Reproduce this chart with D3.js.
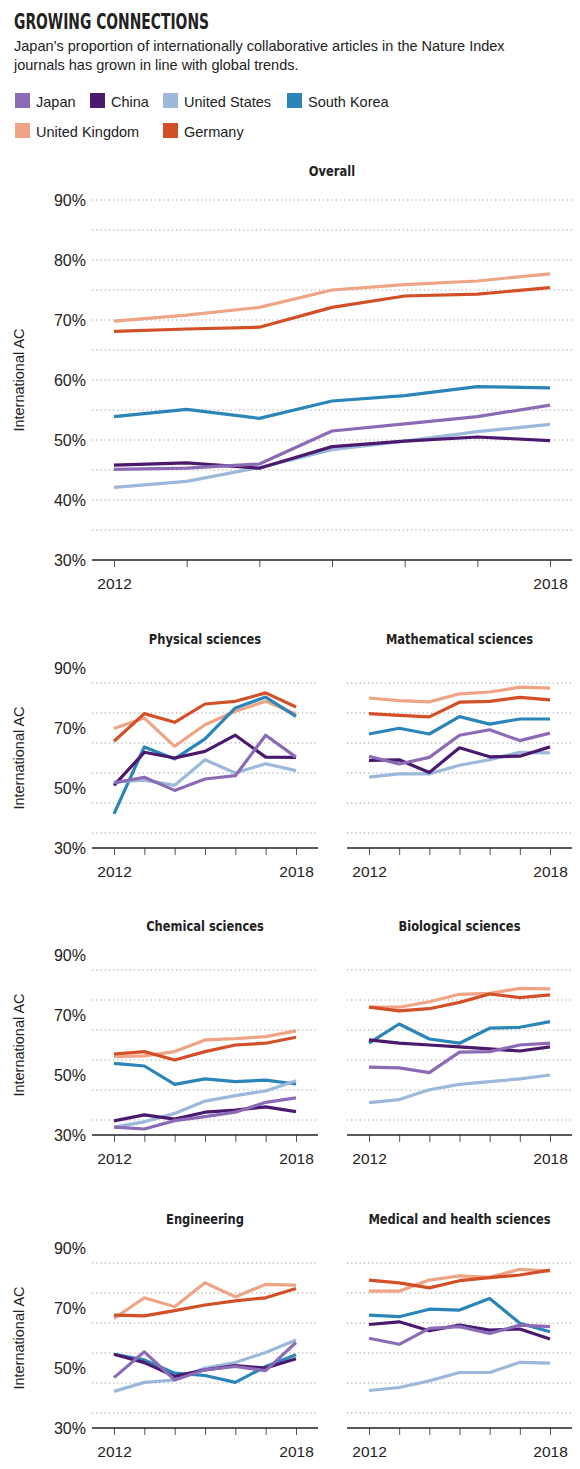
<!DOCTYPE html>
<html>
<head>
<meta charset="utf-8">
<script src="https://cdn.jsdelivr.net/npm/d3@7"></script>
<style>
  body { margin: 0; background: #fff; }
  text { font-family: "Liberation Sans", Arial, sans-serif; fill: #222; }
  .title { font-family: "Liberation Sans Narrow", "DejaVu Sans Condensed", sans-serif; font-weight: bold; }
  .grid line { stroke: #999; stroke-dasharray: 1.2 3; }
</style>
</head>
<body>
<div id="chart"></div>
<script>
// data
var years = [2012, 2013, 2014, 2015, 2016, 2017, 2018];
var countries = ["Japan", "China", "United States", "South Korea", "United Kingdom", "Germany"];
var colors = ["#8c6bb6", "#4b1a6e", "#9cb8da", "#2a85b9", "#eea485", "#d24f27"];
var drawOrder = ["United Kingdom", "Germany", "South Korea", "United States", "China", "Japan"];

var overall = {
  "Japan": [45.1, 45.3, 46.0, 51.5, 52.7, 53.9, 55.8],
  "China": [45.8, 46.2, 45.3, 48.9, 49.8, 50.5, 49.9],
  "United States": [42.1, 43.1, 45.4, 48.4, 49.8, 51.4, 52.6],
  "South Korea": [53.9, 55.1, 53.6, 56.5, 57.4, 58.9, 58.7],
  "United Kingdom": [69.8, 70.8, 72.1, 75.0, 75.9, 76.5, 77.7],
  "Germany": [68.1, 68.5, 68.8, 72.1, 74.0, 74.3, 75.4]
};
var physical = {
  "Japan": [51.7, 53.6, 49.2, 53.0, 54.1, 67.6, 60.3],
  "China": [50.9, 61.9, 60.0, 62.2, 67.6, 60.3, 60.2],
  "United States": [52.0, 52.6, 50.9, 59.4, 55.0, 58.1, 55.8],
  "South Korea": [41.4, 63.7, 59.7, 66.4, 76.7, 80.3, 73.9],
  "United Kingdom": [69.8, 73.3, 63.9, 71.1, 75.6, 78.9, 74.7],
  "Germany": [65.6, 74.8, 71.9, 78.0, 78.9, 81.7, 77.0]
};
var mathematical = {
  "Japan": [60.6, 58.0, 60.2, 67.6, 69.4, 65.8, 68.3],
  "China": [59.2, 59.4, 55.2, 63.4, 60.4, 60.6, 63.7],
  "United States": [53.6, 54.7, 54.7, 57.6, 59.4, 61.9, 61.7],
  "South Korea": [68.0, 69.9, 68.0, 73.8, 71.3, 73.0, 73.0],
  "United Kingdom": [80.0, 79.1, 78.7, 81.4, 82.0, 83.6, 83.3],
  "Germany": [74.8, 74.2, 73.7, 78.6, 78.9, 80.2, 79.4]
};
var chemical = {
  "Japan": [32.6, 32.0, 34.8, 36.1, 37.6, 40.9, 42.4],
  "China": [34.7, 36.7, 35.3, 37.6, 38.3, 39.4, 37.8],
  "United States": [32.6, 34.4, 37.2, 41.3, 43.1, 44.7, 48.1],
  "South Korea": [53.9, 53.0, 46.9, 48.7, 47.8, 48.3, 47.0],
  "United Kingdom": [56.1, 56.4, 57.8, 61.7, 62.1, 62.8, 64.7],
  "Germany": [57.0, 57.8, 55.0, 57.8, 60.0, 60.6, 62.6]
};
var biological = {
  "Japan": [52.6, 52.4, 50.8, 57.6, 57.8, 60.0, 60.6],
  "China": [61.7, 60.6, 60.0, 59.4, 58.7, 58.0, 59.4],
  "United States": [40.8, 41.8, 45.1, 46.9, 47.8, 48.7, 50.0],
  "South Korea": [60.6, 67.0, 62.0, 60.6, 65.6, 65.9, 67.8],
  "United Kingdom": [72.6, 72.6, 74.4, 76.9, 77.2, 78.9, 78.7],
  "Germany": [72.6, 71.4, 72.1, 74.2, 77.0, 75.8, 76.7]
};
var engineering = {
  "Japan": [46.8, 55.4, 46.0, 49.4, 50.5, 49.1, 58.5],
  "China": [54.6, 51.8, 47.2, 49.4, 50.8, 50.0, 53.1],
  "United States": [42.2, 45.2, 46.0, 50.0, 51.8, 55.2, 59.3],
  "South Korea": [54.6, 52.7, 48.3, 47.5, 45.2, 50.5, 54.4],
  "United Kingdom": [66.5, 73.4, 70.4, 78.4, 73.7, 77.9, 77.6],
  "Germany": [67.6, 67.4, 69.1, 71.0, 72.4, 73.4, 76.5]
};
var medical = {
  "Japan": [59.9, 57.9, 63.2, 63.8, 61.5, 64.3, 63.8],
  "China": [64.5, 65.4, 62.4, 64.3, 62.6, 63.0, 59.7],
  "United States": [42.5, 43.5, 45.7, 48.5, 48.5, 51.9, 51.6],
  "South Korea": [67.6, 67.1, 69.6, 69.3, 73.2, 64.9, 62.1],
  "United Kingdom": [75.6, 75.6, 79.3, 80.7, 80.2, 82.9, 82.3],
  "Germany": [79.3, 78.4, 76.7, 79.1, 80.1, 81.0, 82.6]
};

var svg = d3.select("#chart").append("svg").attr("width", 580).attr("height", 1469);
var color = d3.scaleOrdinal().domain(countries).range(colors);

// header
svg.append("text").attr("class", "title").attr("x", 14).attr("y", 29)
  .attr("font-size", 21).attr("textLength", 195).attr("lengthAdjust", "spacingAndGlyphs")
  .text("GROWING CONNECTIONS");
svg.append("text").attr("x", 14).attr("y", 51).attr("font-size", 14.5)
  .text("Japan\u2019s proportion of internationally collaborative articles in the Nature Index");
svg.append("text").attr("x", 14).attr("y", 70).attr("font-size", 14.5)
  .text("journals has grown in line with global trends.");

// legend
var legendPos = [[15, 101], [90, 101], [163, 101], [287, 101], [15, 131], [163, 131]];
countries.forEach(function(c, i) {
  var g = svg.append("g").attr("transform", `translate(${legendPos[i][0]}, ${legendPos[i][1]})`);
  g.append("rect").attr("x", 0).attr("y", -8).attr("width", 15).attr("height", 15).attr("fill", color(c));
  g.append("text").attr("x", 21).attr("y", 6).attr("font-size", 14.5).text(c);
});

// one panel
function panel(data, title, x0, x1, yTop, yBottom, gridStep, labelTicks, yLabel) {
  var x = d3.scaleLinear().domain([2012, 2018]).range([x0 + 22, x1 - 22]);
  var y = d3.scaleLinear().domain([30, 90]).range([yBottom, yTop]);
  var g = svg.append("g");

  var t = g.append("text").attr("class", "title").attr("x", (x0 + x1) / 2).attr("y", yTop - 24)
    .attr("text-anchor", "middle").attr("font-size", 14.5).text(title);
  t.attr("textLength", t.node().getComputedTextLength() * 0.88).attr("lengthAdjust", "spacingAndGlyphs");

  g.append("g").attr("class", "grid")
    .selectAll("line").data(d3.range(35, 90.1, gridStep)).enter().append("line")
    .attr("x1", x0).attr("x2", x1)
    .attr("y1", d => y(d)).attr("y2", d => y(d));

  if (labelTicks) {
    g.selectAll(".ylab").data(labelTicks).enter().append("text")
      .attr("x", x0 - 6).attr("y", d => y(d) + 6)
      .attr("text-anchor", "end").attr("font-size", 16).attr("fill", "#333")
      .text(d => d + "%");
  }
  if (yLabel) {
    g.append("text").attr("transform", `translate(24, ${(yTop + yBottom) / 2}) rotate(-90)`)
      .attr("text-anchor", "middle").attr("font-size", 14.5).text("International AC");
  }

  var xAxis = d3.axisBottom(x).tickValues(years).tickSize(7).tickFormat(d => (d === 2012 || d === 2018) ? d : "");
  var ax = g.append("g").attr("transform", `translate(0, ${yBottom})`).call(xAxis);
  ax.select(".domain").remove();
  ax.selectAll(".tick line").attr("stroke", "#555");
  ax.selectAll(".tick text").attr("font-size", 15.5).attr("fill", "#222")
    .attr("font-family", "Liberation Sans, Arial, sans-serif").attr("dy", "1.2em");
  g.append("line").attr("x1", x0).attr("x2", x1).attr("y1", yBottom).attr("y2", yBottom)
    .attr("stroke", "#222").attr("stroke-width", 1.5);

  var line = d3.line().x((d, i) => x(years[i])).y(d => y(d));
  drawOrder.forEach(function(c) {
    g.append("path").attr("d", line(data[c])).attr("fill", "none")
      .attr("stroke", color(c)).attr("stroke-width", 3.2).attr("stroke-linejoin", "round");
  });
}

panel(overall, "Overall", 92, 572, 200, 560, 5, [30, 40, 50, 60, 70, 80, 90], true);
panel(physical, "Physical sciences", 92, 318, 668, 848, 10, [30, 50, 70, 90], true);
panel(mathematical, "Mathematical sciences", 347, 572, 668, 848, 10, null, false);
panel(chemical, "Chemical sciences", 92, 318, 955, 1135, 10, [30, 50, 70, 90], true);
panel(biological, "Biological sciences", 347, 572, 955, 1135, 10, null, false);
panel(engineering, "Engineering", 92, 318, 1248, 1428, 10, [30, 50, 70, 90], true);
panel(medical, "Medical and health sciences", 347, 572, 1248, 1428, 10, null, false);
</script>
</body>
</html>
